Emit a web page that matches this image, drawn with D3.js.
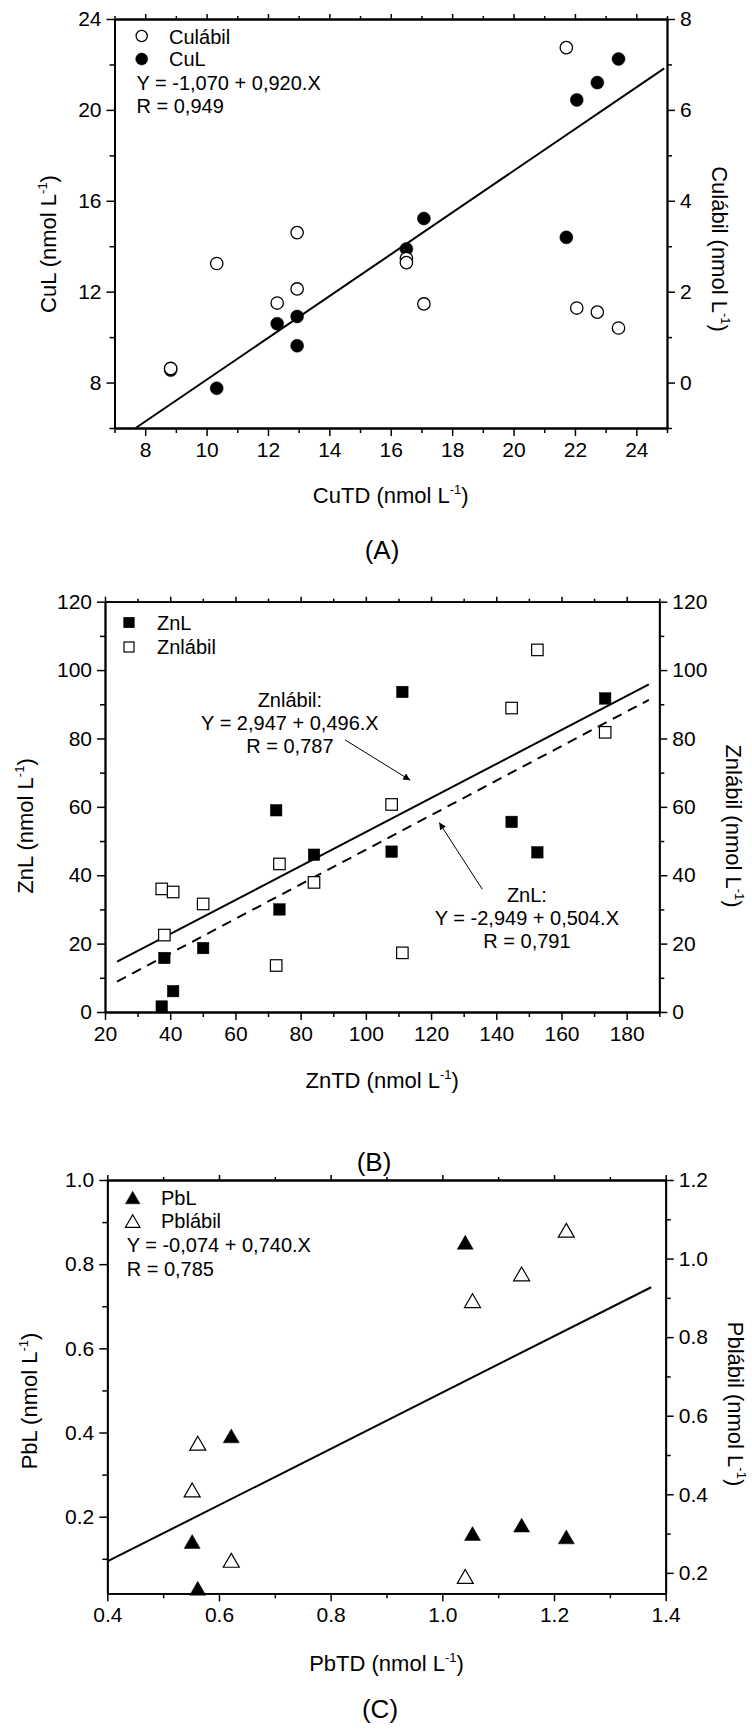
<!DOCTYPE html>
<html><head><meta charset="utf-8">
<script src="https://cdn.jsdelivr.net/npm/d3@7"></script>
<style>body{margin:0;background:#fff}svg{display:block;background:#fff}</style>
</head><body>
<svg id="chart" width="752" height="1731"></svg>
<script>
// ---------- Panel A (Cu) ----------
const cuTD_L   = [8.83, 10.33, 12.30, 12.95, 12.95, 16.51, 17.08, 21.72, 22.06, 22.73, 23.42];
const cuL      = [8.55, 7.75, 10.59, 10.91, 9.62, 13.88, 15.22, 14.39, 20.44, 21.20, 22.24];
const cuTD_lab = [8.83, 10.33, 12.30, 12.95, 12.95, 16.51, 16.51, 17.08, 21.72, 22.06, 22.73, 23.42];
const cuLabil  = [0.31, 2.62, 1.75, 3.30, 2.06, 2.73, 2.64, 1.73, 7.37, 1.64, 1.55, 1.20];
const cuFitX = [7.69, 24.91];
const cuFitY = [6.0, 21.83];
const cuXTicks = [8, 10, 12, 14, 16, 18, 20, 22, 24];
const cuXMinor = [7, 9, 11, 13, 15, 17, 19, 21, 23, 25];
const cuYTicks = [8, 12, 16, 20, 24];
const cuYMinor = [6, 10, 14, 18, 22];
const cuY2Ticks = [0, 2, 4, 6, 8];
const cuY2Minor = [-1, 1, 3, 5, 7];

// ---------- Panel B (Zn) ----------
const znTD     = [37.4, 38.2, 40.9, 50.1, 72.5, 73.5, 84.1, 107.9, 111.2, 144.7, 152.6, 173.4];
const znL      = [1.6, 15.8, 6.1, 18.7, 59.0, 30.0, 46.0, 46.9, 93.6, 55.6, 46.7, 91.7];
const znLabil  = [36.0, 22.5, 35.1, 31.6, 13.6, 43.3, 37.9, 60.7, 17.3, 88.9, 105.9, 81.8];
const znFitX = [23.7, 186.8];
const znLabFitY = [14.7, 95.8];
const znLFitY = [8.9, 91.3];
const znXTicks = [20, 40, 60, 80, 100, 120, 140, 160, 180];
const znXMinor = [30, 50, 70, 90, 110, 130, 150, 170, 190];
const znYTicks = [0, 20, 40, 60, 80, 100, 120];
const znYMinor = [10, 30, 50, 70, 90, 110];

// ---------- Panel C (Pb) ----------
const pbTD     = [0.552, 0.562, 0.622, 1.041, 1.054, 1.142, 1.222];
const pbL      = [0.141, 0.030, 0.392, 0.852, 0.160, 0.180, 0.152];
const pbTD_lab = [0.552, 0.562, 0.622, 1.041, 1.054, 1.142, 1.222];
const pbLabil  = [0.411, 0.530, 0.232, 0.191, 0.893, 0.961, 1.072];
const pbFitX = [0.4, 1.374];
const pbFitY = [0.229, 0.927];
const pbXTicks = [0.4, 0.6, 0.8, 1.0, 1.2, 1.4];
const pbXMinor = [0.5, 0.7, 0.9, 1.1, 1.3];
const pbYTicks = [0.2, 0.4, 0.6, 0.8, 1.0];
const pbYMinor = [0.1, 0.3, 0.5, 0.7, 0.9];
const pbY2Ticks = [0.2, 0.4, 0.6, 0.8, 1.0, 1.2];
const pbY2Minor = [0.3, 0.5, 0.7, 0.9, 1.1];

const FONT = '"Liberation Sans", Arial, Helvetica, sans-serif';
const svg = d3.select("#chart");

function unitText(sel, prefix) {
  sel.append("tspan").text(prefix + " (nmol L");
  sel.append("tspan").attr("dy", -9).attr("font-size", 13).text("-1");
  sel.append("tspan").attr("dy", 9).text(")");
}

function txt(g, x, y, s, size, anchor) {
  return g.append("text").attr("x", x).attr("y", y).attr("font-family", FONT)
    .attr("font-size", size || 20).attr("text-anchor", anchor || "start").attr("fill", "#000").text(s);
}

function drawPanel(o) {
  const g = svg.append("g");
  const x = d3.scaleLinear().domain(o.xDom).range([o.l, o.r]);
  const y = d3.scaleLinear().domain(o.yDom).range([o.b, o.t]);
  const y2 = d3.scaleLinear().domain(o.y2Dom).range([o.b, o.t]);
  const ax = (gen, tr, vals, size, fmt, pad) => {
    const a = g.append("g").attr("transform", tr)
      .call(gen.tickValues(vals).tickSize(size).tickSizeOuter(0).tickPadding(pad).tickFormat(fmt || (() => "")));
    a.selectAll("path.domain").attr("stroke-width", 1.8).attr("stroke", "#000");
    a.selectAll(".tick line").attr("stroke-width", 1.5).attr("stroke", "#000");
    a.selectAll("text").attr("font-size", 21).attr("font-family", FONT).attr("fill", "#000");
    return a;
  };
  // bottom
  ax(d3.axisBottom(x), `translate(0,${o.b})`, o.xMinor, 5, null, 6);
  ax(d3.axisBottom(x), `translate(0,${o.b})`, o.xMajor, 8, o.fmt, 6);
  // top
  ax(d3.axisTop(x), `translate(0,${o.t})`, o.xMinor, 3, null, 2);
  ax(d3.axisTop(x), `translate(0,${o.t})`, o.xMajor, 5, null, 2);
  // left
  ax(d3.axisLeft(y), `translate(${o.l},0)`, o.yMinor, 5, null, 5);
  ax(d3.axisLeft(y), `translate(${o.l},0)`, o.yMajor, 8, o.fmt, 5);
  // right
  ax(d3.axisRight(y2), `translate(${o.r},0)`, o.y2Minor, 5, null, 5);
  ax(d3.axisRight(y2), `translate(${o.r},0)`, o.y2Major, 8, o.fmt2 || o.fmt, 5);

  // titles
  const xt = g.append("text").attr("x", (o.l + o.r) / 2).attr("y", o.xTitleY)
    .attr("text-anchor", "middle").attr("font-family", FONT).attr("font-size", 22);
  unitText(xt, o.xTitle);
  const lt = g.append("text").attr("transform", `translate(${o.yTitleX},${o.yTitleCY}) rotate(-90)`)
    .attr("text-anchor", "middle").attr("dy", "0.35em").attr("font-family", FONT).attr("font-size", 22);
  unitText(lt, o.yTitle);
  const rt = g.append("text").attr("transform", `translate(${o.y2TitleX},${o.y2TitleCY}) rotate(90)`)
    .attr("text-anchor", "middle").attr("dy", "0.35em").attr("font-family", FONT).attr("font-size", 22);
  unitText(rt, o.y2Title);
  txt(g, o.labelX, o.labelY, o.label, 26, "middle");
  return { g, x, y, y2 };
}

function circle(g, cx, cy, filled, r) {
  g.append("circle").attr("cx", cx).attr("cy", cy).attr("r", r || (filled ? 6.5 : 6.2))
    .attr("fill", filled ? "#000" : "#fff").attr("stroke", "#000").attr("stroke-width", filled ? 0.5 : 1.3);
}
function square(g, cx, cy, filled, s) {
  s = s || 11.5;
  g.append("rect").attr("x", cx - s / 2).attr("y", cy - s / 2).attr("width", s).attr("height", s)
    .attr("fill", filled ? "#000" : "#fff").attr("stroke", "#000").attr("stroke-width", filled ? 0.5 : 1.2);
}
function triangle(g, cx, cy, filled, w) {
  w = w || 16; const h = w * 0.866;
  g.append("path").attr("transform", `translate(${cx},${cy})`)
    .attr("d", `M0,${-h / 2}L${w / 2},${h / 2}L${-w / 2},${h / 2}Z`)
    .attr("fill", filled ? "#000" : "#fff").attr("stroke", "#000").attr("stroke-width", filled ? 0.5 : 1.2);
}
function fitLine(g, x, y, xs, ys, dash) {
  const line = d3.line().x(d => x(d[0])).y(d => y(d[1]));
  g.append("path").attr("d", line(xs.map((v, i) => [v, ys[i]]))).attr("fill", "none")
    .attr("stroke", "#000").attr("stroke-width", 2).attr("stroke-dasharray", dash || null);
}

// ---------- Panel A ----------
const A = drawPanel({
  l: 114.5, r: 667, t: 19, b: 428,
  xDom: [7, 25], yDom: [6, 24], y2Dom: [-1, 8],
  xMajor: cuXTicks, xMinor: cuXMinor, yMajor: cuYTicks, yMinor: cuYMinor,
  y2Major: cuY2Ticks, y2Minor: cuY2Minor, fmt: d3.format("d"),
  xTitle: "CuTD", yTitle: "CuL", y2Title: "Culábil",
  xTitleY: 503, yTitleX: 48, yTitleCY: 244, y2TitleX: 720, y2TitleCY: 249,
  label: "(A)", labelX: 382, labelY: 559
});
fitLine(A.g, A.x, A.y, cuFitX, cuFitY);
cuTD_L.forEach((v, i) => circle(A.g, A.x(v), A.y(cuL[i]), true));
cuTD_lab.forEach((v, i) => circle(A.g, A.x(v), A.y2(cuLabil[i]), false));
circle(A.g, 141.7, 36, false, 5.6); txt(A.g, 169, 43.5, "Culábil");
circle(A.g, 141.7, 59, true, 6); txt(A.g, 169, 66, "CuL");
txt(A.g, 136.5, 89.5, "Y = -1,070 + 0,920.X");
txt(A.g, 136.5, 113, "R = 0,949");

// ---------- Panel B ----------
const B = drawPanel({
  l: 105, r: 659.3, t: 601.7, b: 1012,
  xDom: [20, 190], yDom: [0, 120], y2Dom: [0, 120],
  xMajor: znXTicks, xMinor: znXMinor, yMajor: znYTicks, yMinor: znYMinor,
  y2Major: znYTicks, y2Minor: znYMinor, fmt: d3.format("d"),
  xTitle: "ZnTD", yTitle: "ZnL", y2Title: "Znlábil",
  xTitleY: 1088, yTitleX: 25, yTitleCY: 826, y2TitleX: 734, y2TitleCY: 826,
  label: "(B)", labelX: 374, labelY: 1171
});
fitLine(B.g, B.x, B.y2, znFitX, znLabFitY);
fitLine(B.g, B.x, B.y, znFitX, znLFitY, "10,7");
znTD.forEach((v, i) => square(B.g, B.x(v), B.y(znL[i]), true));
znTD.forEach((v, i) => square(B.g, B.x(v), B.y2(znLabil[i]), false));
square(B.g, 129, 622.5, true, 10.5); txt(B.g, 157, 629.5, "ZnL");
square(B.g, 129, 647, false, 10); txt(B.g, 157, 654, "Znlábil");
// annotations
const defs = svg.append("defs");
defs.append("marker").attr("id", "ah").attr("viewBox", "0 0 10 10").attr("refX", 10).attr("refY", 5)
  .attr("markerWidth", 9).attr("markerHeight", 7).attr("markerUnits", "userSpaceOnUse").attr("orient", "auto")
  .append("path").attr("d", "M0,0L10,5L0,10Z").attr("fill", "#000");
const arrow = (x1, y1, x2, y2) => B.g.append("line")
  .attr("x1", B.x(x1)).attr("y1", B.y(y1)).attr("x2", B.x(x2)).attr("y2", B.y(y2))
  .attr("stroke", "#000").attr("stroke-width", 1).attr("marker-end", "url(#ah)");
arrow(93.6, 79.6, 113.6, 67.8);
arrow(135.7, 35.9, 122.5, 55.4);
txt(B.g, B.x(76.7), B.y(89.3), "Znlábil:", 20, "middle");
txt(B.g, B.x(76.7), B.y(82.5), "Y = 2,947 + 0,496.X", 20, "middle");
txt(B.g, B.x(76.7), B.y(75.7), "R = 0,787", 20, "middle");
txt(B.g, B.x(149.4), B.y(32.3), "ZnL:", 20, "middle");
txt(B.g, B.x(149.4), B.y(25.4), "Y = -2,949 + 0,504.X", 20, "middle");
txt(B.g, B.x(149.4), B.y(18.6), "R = 0,791", 20, "middle");

// ---------- Panel C ----------
const C = drawPanel({
  l: 107.3, r: 665.7, t: 1180, b: 1593.3,
  xDom: [0.4, 1.4], yDom: [0.018, 1.0], y2Dom: [0.148, 1.2],
  xMajor: pbXTicks, xMinor: pbXMinor, yMajor: pbYTicks, yMinor: pbYMinor,
  y2Major: pbY2Ticks, y2Minor: pbY2Minor, fmt: d3.format(".1f"),
  xTitle: "PbTD", yTitle: "PbL", y2Title: "Pblábil",
  xTitleY: 1671, yTitleX: 29, yTitleCY: 1401, y2TitleX: 736, y2TitleCY: 1404,
  label: "(C)", labelX: 380, labelY: 1718
});
fitLine(C.g, C.x, C.y2, pbFitX, pbFitY);
pbTD.forEach((v, i) => triangle(C.g, C.x(v), C.y(pbL[i]), true));
pbTD_lab.forEach((v, i) => triangle(C.g, C.x(v), C.y2(pbLabil[i]), false));
triangle(C.g, 132.7, 1197.5, true, 14.5); txt(C.g, 161, 1205, "PbL");
triangle(C.g, 132.7, 1221, false, 14.5); txt(C.g, 161, 1228, "Pblábil");
txt(C.g, 126.7, 1252, "Y = -0,074 + 0,740.X");
txt(C.g, 126.7, 1276, "R = 0,785");
</script>
</body></html>
